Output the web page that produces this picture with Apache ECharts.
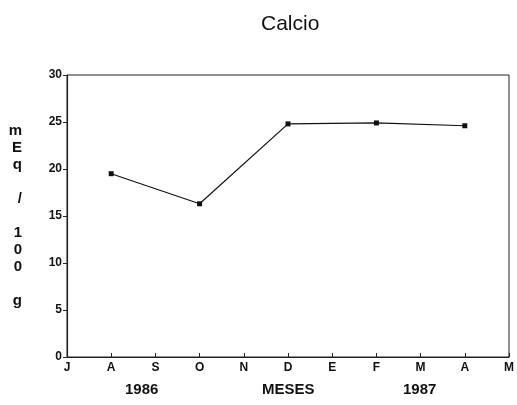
<!DOCTYPE html>
<html>
<head>
<meta charset="utf-8">
<script src="https://cdn.jsdelivr.net/npm/echarts@6/dist/echarts.min.js"></script>
<style>
  html, body { margin: 0; padding: 0; background: #fff; }
  #chart { width: 517px; height: 405px; }
</style>
</head>
<body>
<div id="chart"></div>
<script>
// meses jul 1986 - may 1987
const meses = ['J', 'A', 'S', 'O', 'N', 'D', 'E', 'F', 'M', 'A', 'M'];
// calcio, meq/100 g (solo muestreos bimestrales)
const calcio = [null, 19.5, null, 16.3, null, 24.8, null, 24.9, null, 24.6, null];
const yTicks = [0, 5, 10, 15, 20, 25, 30];
const years = ['1986', 'MESES', '1987'];

const font = 'Liberation Sans, Arial, sans-serif';
let myChart = echarts.init(document.querySelector('#chart'));

myChart.setOption({
    animation: false,
    backgroundColor: '#fff',
    title: {
        text: 'Calcio',
        left: 256,
        top: 9,
        textStyle: { fontFamily: font, fontSize: 21, fontWeight: 'normal', color: '#111' }
    },
    grid: {
        left: 67, right: 7, top: 75, bottom: 48,
        show: true, borderColor: '#222', borderWidth: 1
    },
    xAxis: {
        type: 'category',
        data: meses,
        boundaryGap: false,
        axisLine: { lineStyle: { color: '#222', width: 1.2 } },
        axisTick: { inside: true, length: 4, lineStyle: { color: '#222' } },
        axisLabel: { color: '#111', fontFamily: font, fontWeight: 'bold', fontSize: 12, margin: 5 }
    },
    yAxis: {
        type: 'value',
        min: yTicks[0],
        max: yTicks[yTicks.length - 1],
        interval: 5,
        splitLine: { show: false },
        axisLine: { show: true, lineStyle: { color: '#222', width: 1.2 } },
        axisTick: { show: true, length: 4, lineStyle: { color: '#222' } },
        axisLabel: { color: '#111', fontFamily: font, fontWeight: 'bold', fontSize: 12, margin: 5 },
        name: 'm\nE\nq\n\n/\n\n1\n0\n0\n\ng',
        nameLocation: 'middle',
        nameRotate: 0,
        nameGap: 45,
        nameTextStyle: { color: '#111', fontFamily: font, fontWeight: 'bold', fontSize: 15, lineHeight: 17 }
    },
    graphic: [
        { type: 'text', left: 125, top: 382, style: { text: years[0], fill: '#111', font: 'bold 15px ' + font } },
        { type: 'text', left: 262, top: 382, style: { text: years[1], fill: '#111', font: 'bold 15px ' + font } },
        { type: 'text', left: 403, top: 382, style: { text: years[2], fill: '#111', font: 'bold 15px ' + font } }
    ],
    series: [{
        name: 'Calcio',
        type: 'line',
        data: calcio,
        connectNulls: true,
        symbol: 'rect',
        symbolSize: 5,
        itemStyle: { color: '#111' },
        lineStyle: { color: '#111', width: 1.2 }
    }]
});
</script>
</body>
</html>
